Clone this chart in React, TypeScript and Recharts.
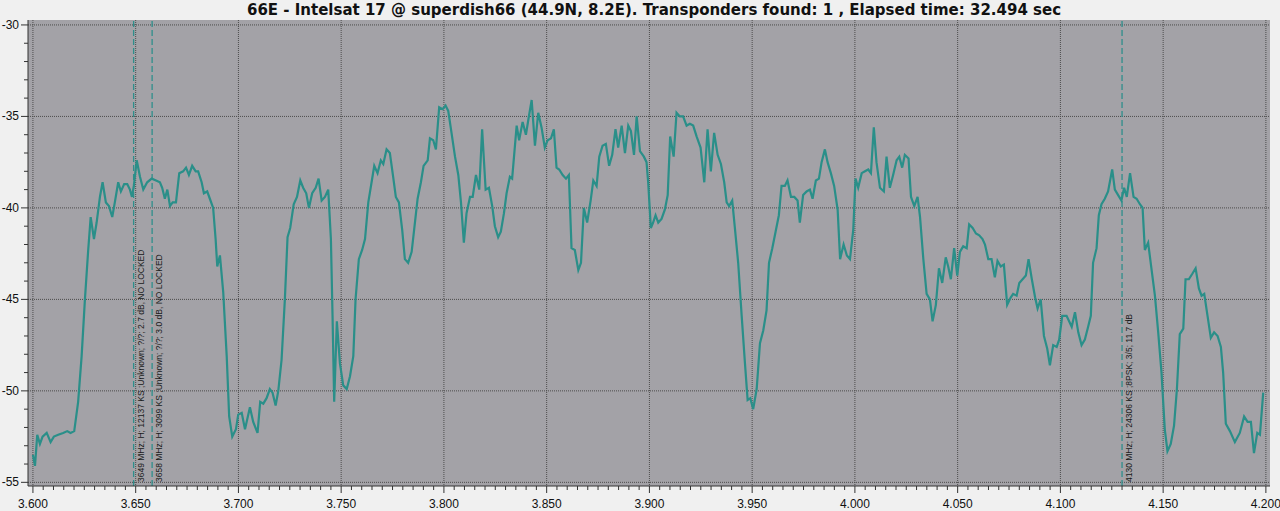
import React from 'react';
import { LineChart, Line, XAxis, YAxis, CartesianGrid, ReferenceLine } from 'recharts';

// frequency in MHz, level in dB
const freqs = [
  3600.0, 3601.0, 3602.1, 3603.4, 3604.7, 3606.7, 3608.6, 3610.2, 3612.3, 3614.7, 3616.7, 3618.3, 3620.1, 3622.0,
  3623.7, 3625.3, 3626.9, 3628.1, 3629.7, 3631.0, 3632.6, 3633.9, 3635.5, 3637.0, 3638.6, 3640.0, 3641.5, 3642.8,
  3644.4, 3645.9, 3647.2, 3648.2, 3649.1, 3650.5, 3652.1, 3653.7, 3655.6, 3657.8, 3659.9, 3661.8, 3662.9, 3664.2,
  3665.4, 3666.7, 3668.0, 3669.6, 3671.2, 3673.1, 3674.5, 3675.9, 3677.5, 3679.2, 3680.4, 3682.1, 3683.2, 3684.8,
  3686.1, 3687.7, 3688.9, 3689.7, 3691.0, 3692.6, 3694.3, 3695.5, 3697.0, 3698.8, 3699.9, 3701.6, 3703.2, 3705.6,
  3707.2, 3709.3, 3710.6, 3712.1, 3713.7, 3715.3, 3716.6, 3718.1, 3719.4, 3721.0, 3722.6, 3723.9, 3725.2, 3726.9,
  3728.5, 3730.1, 3731.5, 3733.0, 3734.3, 3735.9, 3737.6, 3739.0, 3740.5, 3742.1, 3743.7, 3745.0, 3745.8, 3746.6,
  3747.9, 3749.4, 3751.0, 3752.7, 3754.3, 3755.9, 3757.0, 3758.6, 3760.2, 3761.6, 3763.2, 3764.8, 3766.1, 3767.7,
  3769.3, 3770.5, 3772.1, 3773.7, 3775.3, 3776.6, 3778.1, 3779.7, 3781.0, 3782.6, 3784.3, 3785.5, 3787.2, 3788.8,
  3790.1, 3792.1, 3793.2, 3794.8, 3796.1, 3797.7, 3799.4, 3800.8, 3802.1, 3803.7, 3805.4, 3807.0, 3808.3, 3809.7,
  3811.0, 3812.7, 3814.0, 3815.6, 3817.2, 3818.6, 3820.3, 3821.9, 3823.5, 3824.8, 3826.4, 3827.7, 3829.2, 3830.5,
  3832.1, 3833.2, 3835.4, 3836.6, 3838.3, 3839.9, 3841.2, 3842.7, 3844.3, 3845.9, 3847.5, 3849.1, 3850.5, 3852.1,
  3853.5, 3854.8, 3856.1, 3857.8, 3859.4, 3860.8, 3862.1, 3863.7, 3865.4, 3866.7, 3868.1, 3869.7, 3871.4, 3872.7,
  3874.3, 3875.6, 3877.2, 3878.8, 3880.4, 3881.9, 3883.5, 3884.8, 3886.5, 3888.1, 3889.7, 3891.0, 3892.5, 3893.8,
  3895.4, 3897.3, 3898.6, 3899.4, 3900.7, 3901.8, 3903.0, 3904.3, 3905.9, 3907.5, 3908.9, 3910.1, 3911.8, 3913.2,
  3914.8, 3916.4, 3918.1, 3919.7, 3921.3, 3923.0, 3924.9, 3926.7, 3928.3, 3929.9, 3931.5, 3933.2, 3934.8, 3936.4,
  3937.6, 3938.8, 3940.3, 3941.6, 3943.2, 3944.9, 3946.5, 3947.8, 3949.1, 3950.5, 3952.2, 3953.8, 3955.4, 3957.0,
  3958.2, 3959.8, 3961.4, 3963.0, 3964.3, 3965.9, 3967.2, 3968.9, 3970.5, 3972.1, 3973.2, 3974.8, 3976.5, 3978.1,
  3979.4, 3981.0, 3982.5, 3983.8, 3985.4, 3986.7, 3988.3, 3989.9, 3991.6, 3992.8, 3994.5, 3996.1, 3997.6, 3999.2,
  4000.3, 4001.6, 4003.3, 4004.9, 4006.5, 4007.8, 4009.2, 4010.5, 4012.2, 4014.1, 4015.4, 4017.0, 4018.6, 4020.3,
  4021.6, 4023.0, 4024.3, 4026.1, 4027.3, 4028.9, 4030.5, 4031.7, 4033.3, 4034.9, 4036.5, 4037.8, 4039.4, 4040.9,
  4042.5, 4044.2, 4045.4, 4046.7, 4048.3, 4049.8, 4051.1, 4052.7, 4054.4, 4055.6, 4057.3, 4058.9, 4060.5, 4062.1,
  4063.3, 4064.9, 4066.5, 4068.1, 4069.4, 4071.0, 4072.5, 4074.1, 4075.8, 4077.0, 4078.7, 4080.0, 4081.6, 4083.2,
  4084.5, 4086.1, 4087.7, 4088.9, 4090.4, 4092.0, 4093.6, 4094.9, 4096.5, 4098.2, 4099.4, 4100.9, 4103.0, 4105.5,
  4107.1, 4108.7, 4110.3, 4111.9, 4113.5, 4114.8, 4115.9, 4117.6, 4118.7, 4120.0, 4121.6, 4123.2, 4125.2, 4126.5,
  4128.1, 4129.7, 4131.0, 4132.3, 4133.9, 4135.6, 4137.1, 4138.7, 4140.0, 4141.1, 4142.7, 4144.4, 4146.0, 4147.6,
  4149.2, 4150.8, 4152.1, 4153.7, 4155.3, 4156.7, 4158.1, 4159.8, 4160.9, 4162.5, 4164.2, 4165.8, 4167.4, 4168.7,
  4170.0, 4171.6, 4173.2, 4174.8, 4176.5, 4178.1, 4179.2, 4180.5, 4182.5, 4184.9, 4187.3, 4189.4, 4191.1, 4192.7,
  4194.2, 4195.8, 4197.1, 4198.7,
];

const levels = [
  -53.5, -54.1, -52.4, -52.9, -52.5, -52.3, -52.8, -52.5, -52.4, -52.3, -52.2, -52.3, -52.2, -50.6,
  -48.1, -45.0, -42.3, -40.5, -41.7, -40.8, -39.4, -38.6, -39.7, -39.9, -40.5, -39.6, -38.6, -39.1,
  -38.7, -38.7, -39.0, -39.4, -38.8, -37.4, -38.3, -39.0, -38.6, -38.4, -38.5, -38.6, -38.9, -39.5,
  -39.0, -39.9, -39.7, -39.7, -38.1, -38.0, -37.8, -38.2, -37.7, -38.0, -38.0, -38.6, -39.2, -39.1,
  -39.5, -40.0, -41.7, -43.2, -42.6, -44.6, -48.1, -51.4, -52.5, -52.1, -51.3, -51.2, -52.1, -50.9,
  -51.7, -52.3, -50.6, -50.7, -50.4, -49.9, -50.1, -50.8, -50.0, -48.3, -45.0, -41.6, -41.1, -39.8,
  -39.4, -38.5, -38.9, -39.2, -40.0, -39.2, -38.9, -38.4, -39.6, -39.4, -39.0, -41.7, -45.9, -50.6,
  -46.2, -48.5, -49.7, -49.9, -49.2, -48.1, -45.0, -42.8, -42.3, -41.7, -39.7, -38.6, -37.7, -38.1,
  -37.4, -37.6, -36.8, -37.0, -38.3, -39.4, -39.7, -41.2, -42.8, -43.0, -42.4, -41.2, -39.5, -38.6,
  -37.7, -37.4, -36.2, -36.3, -36.8, -34.5, -34.6, -34.4, -34.7, -35.9, -37.2, -38.2, -39.7, -41.9,
  -40.3, -39.4, -39.4, -38.2, -39.0, -35.7, -39.0, -38.9, -39.9, -41.0, -41.6, -41.3, -40.3, -39.2,
  -38.3, -38.4, -35.5, -36.3, -35.3, -36.0, -35.1, -34.1, -36.6, -34.8, -35.6, -36.7, -36.3, -36.2,
  -35.7, -37.8, -37.9, -38.2, -38.4, -38.2, -42.2, -42.3, -43.4, -43.0, -40.0, -40.8, -39.6, -38.5,
  -38.8, -37.2, -36.6, -36.5, -37.7, -37.1, -35.7, -36.7, -35.5, -37.0, -35.5, -35.8, -37.1, -35.0,
  -36.9, -37.2, -37.5, -38.6, -41.1, -40.8, -40.4, -40.8, -40.6, -40.1, -39.3, -36.1, -37.2, -34.8,
  -35.0, -35.0, -35.5, -35.4, -35.5, -36.1, -36.7, -38.6, -35.7, -38.0, -35.9, -37.1, -37.6, -38.6,
  -39.7, -39.9, -39.6, -41.1, -43.0, -45.9, -48.5, -50.5, -50.4, -51.0, -49.9, -47.4, -46.7, -45.6,
  -43.0, -42.2, -41.3, -40.4, -38.8, -38.8, -38.5, -39.4, -39.4, -39.6, -40.8, -39.3, -39.1, -39.0,
  -39.5, -38.5, -38.4, -37.5, -36.8, -37.5, -38.1, -38.8, -40.1, -42.8, -42.0, -42.6, -42.8, -41.2,
  -38.4, -38.9, -38.1, -38.0, -37.9, -38.1, -35.6, -37.5, -38.9, -39.1, -37.2, -38.9, -38.2, -37.4,
  -37.2, -37.8, -37.1, -37.3, -39.4, -39.9, -39.4, -40.5, -42.8, -44.7, -45.0, -46.2, -45.3, -43.3,
  -44.1, -42.7, -43.2, -43.9, -42.2, -43.7, -42.4, -42.1, -42.2, -40.9, -41.1, -41.4, -41.5, -41.7,
  -42.0, -42.8, -42.8, -43.8, -42.9, -43.2, -43.1, -45.3, -44.9, -44.7, -44.8, -44.1, -43.9, -43.7,
  -42.8, -43.9, -44.9, -45.5, -45.0, -47.0, -47.7, -48.6, -47.5, -47.6, -47.2, -45.9, -45.9, -46.5,
  -45.7, -46.8, -47.5, -47.2, -46.5, -45.9, -43.0, -42.2, -40.4, -39.8, -39.5, -39.1, -37.9, -39.0,
  -39.3, -39.6, -38.9, -39.4, -38.1, -39.4, -39.5, -39.8, -40.0, -42.3, -41.9, -43.4, -44.8, -46.8,
  -49.0, -52.1, -53.3, -52.9, -51.9, -49.9, -46.9, -46.6, -43.9, -43.9, -43.6, -43.3, -44.4, -44.8,
  -44.7, -45.9, -47.1, -46.8, -47.0, -47.6, -49.0, -51.8, -52.2, -52.8, -52.3, -51.4, -51.7, -51.7,
  -53.4, -52.3, -52.4, -50.1,
];

const majorX = [3600, 3650, 3700, 3750, 3800, 3850, 3900, 3950, 4000, 4050, 4100, 4150, 4200];
const majorY = [-55, -50, -45, -40, -35, -30];
const minorX = Array.from({ length: 121 }, (_, i) => 3600 + i * 5);
const minorY = Array.from({ length: 26 }, (_, i) => -55 + i);

const markerFreqs = [3649, 3658, 4130];
const markerLabels = [
  '3649 MHz; H; 12137 KS ;Unknown; ?/?; 2.7 dB, NO LOCKED',
  '3658 MHz; H; 3099 KS ;Unknown; ?/?; 3.0 dB, NO LOCKED',
  '4130 MHz; H; 24306 KS ;8PSK; 3/5; 11.7 dB',
];

const title = '66E - Intelsat 17 @ superdish66 (44.9N, 8.2E). Transponders found: 1 , Elapsed time: 32.494 sec';

const data = freqs.map((f, i) => ({ f, v: levels[i] }));

const FONT = '"Liberation Sans", Arial, sans-serif';
const TITLE_FONT = '"DejaVu Sans", Verdana, sans-serif';
const TRACE = '#2a8f89';

const XTick = (props: any) => {
  const { x, y, payload } = props;
  const v = payload.value;
  const major = v % 50 === 0;
  return (
    <g>
      <line x1={x} x2={x} y1={y - 8} y2={y - 8 + (major ? 7 : 4)} stroke="#333" />
      {major && (
        <text x={x} y={y + 14} textAnchor="middle" fontSize={12} fontFamily={FONT} fill="#111">
          {(v / 1000).toFixed(3)}
        </text>
      )}
    </g>
  );
};

const YTick = (props: any) => {
  const { x, y, payload } = props;
  const v = payload.value;
  const major = v % 5 === 0;
  return (
    <g>
      <line x1={x + 8} x2={x + 8 - (major ? 7 : 4)} y1={y} y2={y} stroke="#333" />
      {major && (
        <text x={x - 1} y={y + 4} textAnchor="end" fontSize={12} fontFamily={FONT} fill="#111">
          {v}
        </text>
      )}
    </g>
  );
};

const markerLabel = (text: string) => (props: any) => {
  const { viewBox } = props;
  const lx = viewBox.x + 8;
  const ly = viewBox.y + viewBox.height - 4;
  return (
    <text
      x={lx}
      y={ly}
      transform={`rotate(-90 ${lx} ${ly})`}
      fontSize={8.5}
      fontFamily={FONT}
      fill="#1a1a1a"
      dominantBaseline="middle"
    >
      {text}
    </text>
  );
};

export default function App() {
  return (
    <div style={{ position: 'absolute', left: 0, top: 0, width: 1280, height: 511, background: '#f0f0f0' }}>
      <div
        style={{
          position: 'absolute',
          left: 14,
          top: 1,
          width: 1280,
          textAlign: 'center',
          fontFamily: TITLE_FONT,
          fontWeight: 'bold',
          fontSize: 15,
          color: '#111',
        }}
      >
        {title}
      </div>
      <LineChart width={1280} height={511} data={data} margin={{ top: 20, right: 10, left: 0, bottom: 0 }}>
        <CartesianGrid
          fill="#a3a2a7"
          stroke="#4c4c4c"
          strokeDasharray="1 1"
          horizontalValues={majorY}
          verticalValues={majorX}
        />
        <XAxis
          dataKey="f"
          type="number"
          domain={[3597.6, 4202]}
          ticks={minorX}
          interval={0}
          tick={<XTick />}
          tickLine={false}
          axisLine={{ stroke: '#333' }}
          height={25}
          allowDataOverflow
        />
        <YAxis
          type="number"
          domain={[-55.2, -29.73]}
          ticks={minorY}
          interval={0}
          tick={<YTick />}
          tickLine={false}
          axisLine={{ stroke: '#333' }}
          width={28}
          allowDataOverflow
        />
        {markerFreqs.map((m, i) => (
          <ReferenceLine
            key={m}
            x={m}
            stroke="#2f8f8c"
            strokeWidth={1.3}
            strokeDasharray="6 3"
            label={markerLabel(markerLabels[i])}
          />
        ))}
        <Line
          type="linear"
          dataKey="v"
          stroke={TRACE}
          strokeWidth={2.2}
          dot={false}
          isAnimationActive={false}
        />
      </LineChart>
    </div>
  );
}
